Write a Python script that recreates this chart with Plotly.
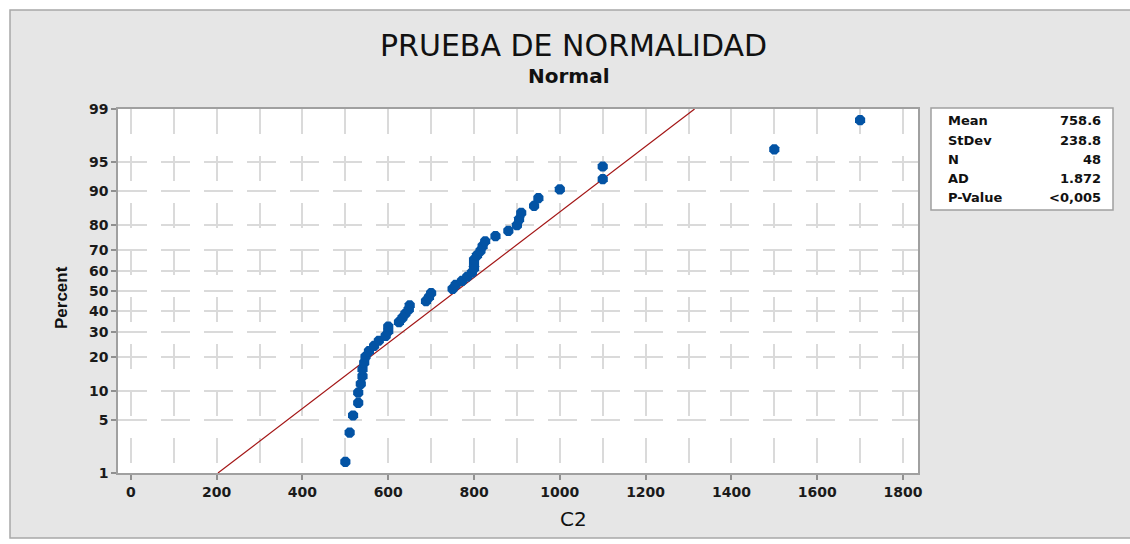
from statistics import NormalDist
import plotly.graph_objects as go

# Sorted sample values of C2
c2_values = [500, 510, 518, 530, 530, 536, 540, 540, 544, 547,
             555, 567, 578, 594, 600, 600, 625, 633, 640, 648,
             650, 688, 695, 700, 750, 757, 772, 784, 795, 800,
             800, 800, 807, 815, 820, 826, 850, 880, 900, 905,
             910, 940, 950, 1000, 1100, 1100, 1500, 1700]

# Summary statistics
stat_names = ["Mean", "StDev", "N", "AD", "P-Value"]
stat_texts = ["758.6", "238.8", "48", "1.872", "<0,005"]
fit_mean = 758.6
fit_sd = 238.8

# Axis ticks
pct_ticks = [1, 5, 10, 20, 30, 40, 50, 60, 70, 80, 90, 95, 99]
x_ticks = [0, 200, 400, 600, 800, 1000, 1200, 1400, 1600, 1800]

nd = NormalDist()
n = len(c2_values)
# Median-rank plotting positions on the normal probability scale
z_points = [nd.inv_cdf((i - 0.3) / (n + 0.4)) for i in range(1, n + 1)]
z_lo, z_hi = nd.inv_cdf(0.01), nd.inv_cdf(0.99)
z_ticks = [nd.inv_cdf(p / 100) for p in pct_ticks]

fit_z = [z_lo, z_hi]
fit_x = [fit_mean + fit_sd * z for z in fit_z]

fig = go.Figure()
fig.add_trace(go.Scatter(
    x=fit_x, y=fit_z, mode="lines",
    line=dict(color="#a31515", width=1.2),
    hoverinfo="skip", showlegend=False,
))
fig.add_trace(go.Scatter(
    x=c2_values, y=z_points, mode="markers",
    marker=dict(symbol="octagon", size=11, color="#0353a4",
                line=dict(width=0)),
    showlegend=False,
))

W, H = 1130, 544
L, R, T, B = 118, 918, 109, 473
BG = "#e6e6e6"

wide = "DejaVu Sans, Verdana, sans-serif"
tick_font = dict(family=wide, size=14, color="#1a1a1a", weight="bold")

fig.update_layout(
    width=W, height=H,
    margin=dict(l=L, r=W - R, t=T, b=H - B, pad=0),
    paper_bgcolor=BG,
    plot_bgcolor="white",
    xaxis=dict(
        range=[-30, 1835],
        tickvals=x_ticks,
        ticktext=[str(v) for v in x_ticks],
        tickfont=tick_font,
        ticks="outside", ticklen=5, tickcolor="#909090", tickwidth=1.5,
        showline=True, mirror=True, linecolor="#a0a0a0", linewidth=1.5,
        showgrid=True, gridcolor="#dadada", gridwidth=2,
        griddash="25px,22px",
        minor=dict(dtick=100, tick0=0, showgrid=True, gridcolor="#dadada",
                   gridwidth=2, griddash="25px,22px", ticks=""),
        zeroline=False,
    ),
    yaxis=dict(
        range=[z_lo, z_hi],
        tickvals=z_ticks,
        ticktext=[str(p) for p in pct_ticks],
        tickfont=tick_font,
        ticks="outside", ticklen=5, tickcolor="#909090", tickwidth=1.5,
        showline=True, mirror=True, linecolor="#a0a0a0", linewidth=1.5,
        showgrid=True, gridcolor="#dadada", gridwidth=2,
        griddash="29px,14px",
        zeroline=False,
    ),
    font=dict(family=wide, color="#1a1a1a"),
)


def px_x(px):
    return (px - L) / (R - L)


def px_y(py):
    return 1 - (py - T) / (B - T)


shapes = [
    # white page outside the graph frame
    dict(type="rect", xref="paper", yref="paper",
         x0=px_x(-5), x1=px_x(10), y0=px_y(H + 5), y1=px_y(-5),
         fillcolor="white", line=dict(width=0)),
    dict(type="rect", xref="paper", yref="paper",
         x0=px_x(-5), x1=px_x(W + 5), y0=px_y(10), y1=px_y(-5),
         fillcolor="white", line=dict(width=0)),
    dict(type="rect", xref="paper", yref="paper",
         x0=px_x(-5), x1=px_x(W + 5), y0=px_y(H + 5), y1=px_y(538),
         fillcolor="white", line=dict(width=0)),
    # graph frame border
    dict(type="rect", xref="paper", yref="paper",
         x0=px_x(10), x1=px_x(W + 5), y0=px_y(538), y1=px_y(10),
         line=dict(color="#a8a8a8", width=1.5)),
    # statistics box
    dict(type="rect", xref="paper", yref="paper",
         x0=px_x(931), x1=px_x(1113), y0=px_y(210), y1=px_y(108),
         fillcolor="white", line=dict(color="#a0a0a0", width=1.5)),
]
fig.update_layout(shapes=shapes)

annotations = [
    dict(text="PRUEBA DE NORMALIDAD", x=px_x(573), y=px_y(46),
         font=dict(size=30, family=wide, color="#111111")),
    dict(text="Normal", x=px_x(569), y=px_y(76),
         font=dict(size=20, family=wide, color="#111111", weight="bold")),
    dict(text="C2", x=px_x(573), y=px_y(519),
         font=dict(size=20, family=wide, color="#111111")),
    dict(text="Percent", x=px_x(61), y=px_y(298), textangle=-90,
         font=dict(size=17, family="Liberation Sans Narrow, Liberation Sans, sans-serif",
                   color="#111111", weight="bold")),
]
row_y = [120, 140, 159, 178, 197]
for name, val, ry in zip(stat_names, stat_texts, row_y):
    annotations.append(dict(text=name, x=px_x(946), y=px_y(ry), xanchor="left",
                            font=dict(size=13, family=wide,
                                      color="#111111", weight="bold")))
    annotations.append(dict(text=val, x=px_x(1103), y=px_y(ry), xanchor="right",
                            font=dict(size=13, family=wide,
                                      color="#111111", weight="bold")))
for a in annotations:
    a.update(xref="paper", yref="paper", showarrow=False)
    a.setdefault("xanchor", "center")
    a.setdefault("yanchor", "middle")
fig.update_layout(annotations=annotations)

fig.write_html("out.html")
